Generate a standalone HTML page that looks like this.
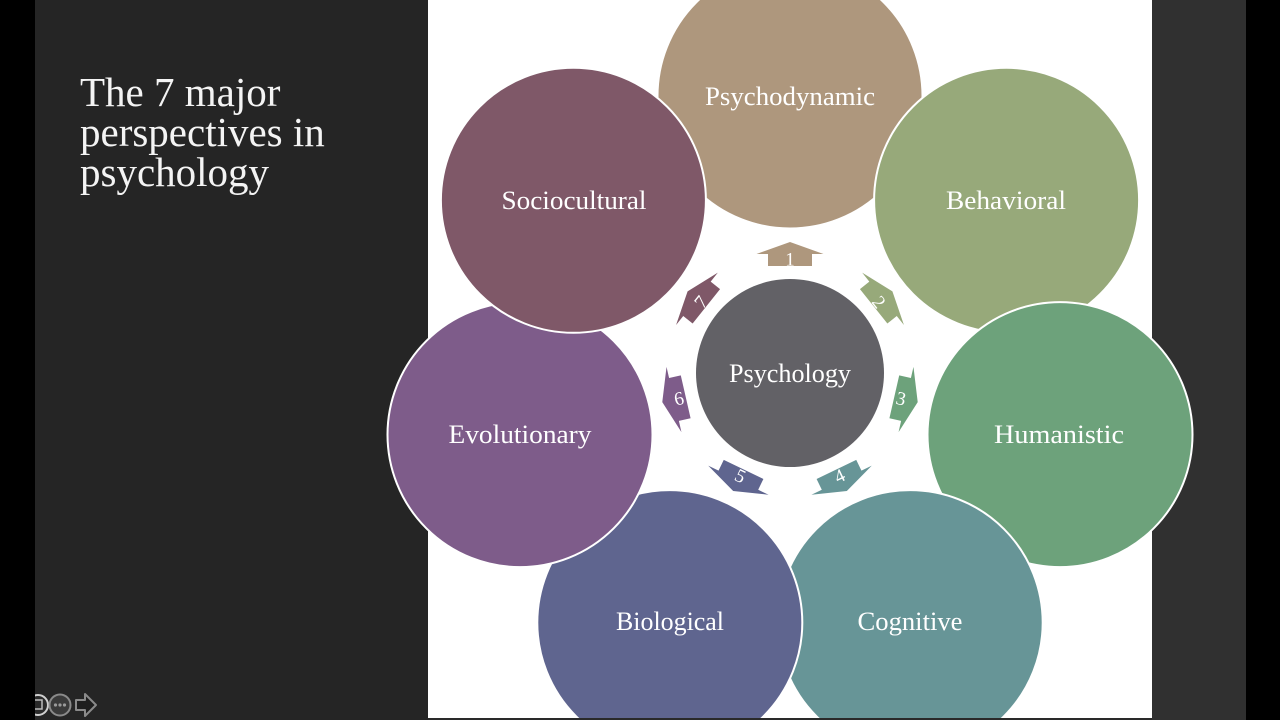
<!DOCTYPE html>
<html><head><meta charset="utf-8"><style>
html,body{margin:0;padding:0;width:1280px;height:720px;overflow:hidden;background:#000;}
svg{display:block}
</style></head><body>
<svg width="1280" height="720" viewBox="0 0 1280 720" xmlns="http://www.w3.org/2000/svg" font-family="'Liberation Serif', serif">
  <rect x="0" y="0" width="1280" height="720" fill="#000"/>
  <rect x="35" y="0" width="393" height="720" fill="#252525"/>
  <rect x="428" y="0" width="724" height="718" fill="#ffffff"/>
  <rect x="1152" y="0" width="94" height="720" fill="#303030"/>
  <rect x="428" y="718" width="724" height="2" fill="#2a2a2a"/>

  <!-- title -->
  <g fill="#f4f4f4" font-size="41">
    <text x="80" y="106">The 7 major</text>
    <text x="80" y="146">perspectives in</text>
    <text x="80" y="186">psychology</text>
  </g>

  <!-- outer circles -->
  <clipPath id="c"><rect x="0" y="0" width="1280" height="718"/></clipPath>
  <g clip-path="url(#c)" stroke="#fff" stroke-width="2">
    <circle cx="790" cy="96" r="132.5" fill="#AE977D"/>
    <circle cx="1006.6" cy="200.3" r="132.5" fill="#97A97A"/>
    <circle cx="1060" cy="434.6" r="132.5" fill="#6DA27B"/>
    <circle cx="910.2" cy="622.6" r="132.5" fill="#679597"/>
    <circle cx="669.8" cy="622.6" r="132.5" fill="#5F658F"/>
    <circle cx="520" cy="434.6" r="132.5" fill="#7E5C8A"/>
    <circle cx="573.4" cy="200.3" r="132.5" fill="#7F5868"/>
  </g>

  <!-- labels -->
  <g fill="#ffffff" font-size="26" text-anchor="middle">
    <text x="790" y="105" textLength="170" lengthAdjust="spacingAndGlyphs">Psychodynamic</text>
    <text x="1006" y="209" textLength="120" lengthAdjust="spacingAndGlyphs">Behavioral</text>
    <text x="1059" y="443" textLength="130" lengthAdjust="spacingAndGlyphs">Humanistic</text>
    <text x="910" y="630" textLength="105" lengthAdjust="spacingAndGlyphs">Cognitive</text>
    <text x="670" y="630" textLength="108" lengthAdjust="spacingAndGlyphs">Biological</text>
    <text x="520" y="443" textLength="143" lengthAdjust="spacingAndGlyphs">Evolutionary</text>
    <text x="574" y="209" textLength="145" lengthAdjust="spacingAndGlyphs">Sociocultural</text>
  </g>

  <!-- arrows -->
  <g>
    <polygon transform="rotate(0 790 373)" fill="#AE977D" points="768,266 812,266 812,254 823.5,254 790,242 756.5,254 768,254"/>
    <polygon transform="rotate(51.43 790 373)" fill="#97A97A" points="768,266 812,266 812,254 823.5,254 790,242 756.5,254 768,254"/>
    <polygon transform="rotate(102.86 790 373)" fill="#6DA27B" points="768,266 812,266 812,254 823.5,254 790,242 756.5,254 768,254"/>
    <polygon transform="rotate(154.29 790 373)" fill="#679597" points="768,266 812,266 812,254 823.5,254 790,242 756.5,254 768,254"/>
    <polygon transform="rotate(205.71 790 373)" fill="#5F658F" points="768,266 812,266 812,254 823.5,254 790,242 756.5,254 768,254"/>
    <polygon transform="rotate(257.14 790 373)" fill="#7E5C8A" points="768,266 812,266 812,254 823.5,254 790,242 756.5,254 768,254"/>
    <polygon transform="rotate(308.57 790 373)" fill="#7F5868" points="768,266 812,266 812,254 823.5,254 790,242 756.5,254 768,254"/>
  </g>
  <g fill="#ffffff" font-size="19" text-anchor="middle">
    <text transform="translate(790 259) rotate(0)" y="6.5">1</text>
    <text transform="translate(879.1 301.9) rotate(51.4)" y="6.5">2</text>
    <text transform="translate(901.1 398.4) rotate(12.9)" y="6.5">3</text>
    <text transform="translate(839.5 475.7) rotate(-25.7)" y="6.5">4</text>
    <text transform="translate(740.5 475.7) rotate(25.7)" y="6.5">5</text>
    <text transform="translate(678.9 398.4) rotate(-12.9)" y="6.5">6</text>
    <text transform="translate(700.9 301.9) rotate(-51.4)" y="6.5">7</text>
  </g>

  <!-- center -->
  <circle cx="790" cy="373" r="94" fill="#626166"/>
  <text x="790" y="382" fill="#ffffff" font-size="26" text-anchor="middle" textLength="122" lengthAdjust="spacingAndGlyphs">Psychology</text>

  <!-- bottom-left player icons -->
  <clipPath id="ic"><rect x="35" y="680" width="100" height="40"/></clipPath>
  <g clip-path="url(#ic)">
    <circle cx="38" cy="705" r="10" fill="#2a2a2a" stroke="#cfcfcf" stroke-width="2"/>
    <rect x="33" y="700" width="9" height="9" fill="none" stroke="#bbb" stroke-width="1.5"/>
  </g>
  <circle cx="60" cy="705" r="10.5" fill="#3a3a3a" stroke="#8a8a8a" stroke-width="2"/>
  <circle cx="55.5" cy="705" r="1.6" fill="#9a9a9a"/>
  <circle cx="60" cy="705" r="1.6" fill="#9a9a9a"/>
  <circle cx="64.5" cy="705" r="1.6" fill="#9a9a9a"/>
  <polygon points="76,700 85,700 85,694 96,705 85,716 85,710 76,710" fill="#1e1e1e" stroke="#8a8a8a" stroke-width="2" stroke-linejoin="round"/>
</svg>
</body></html>
